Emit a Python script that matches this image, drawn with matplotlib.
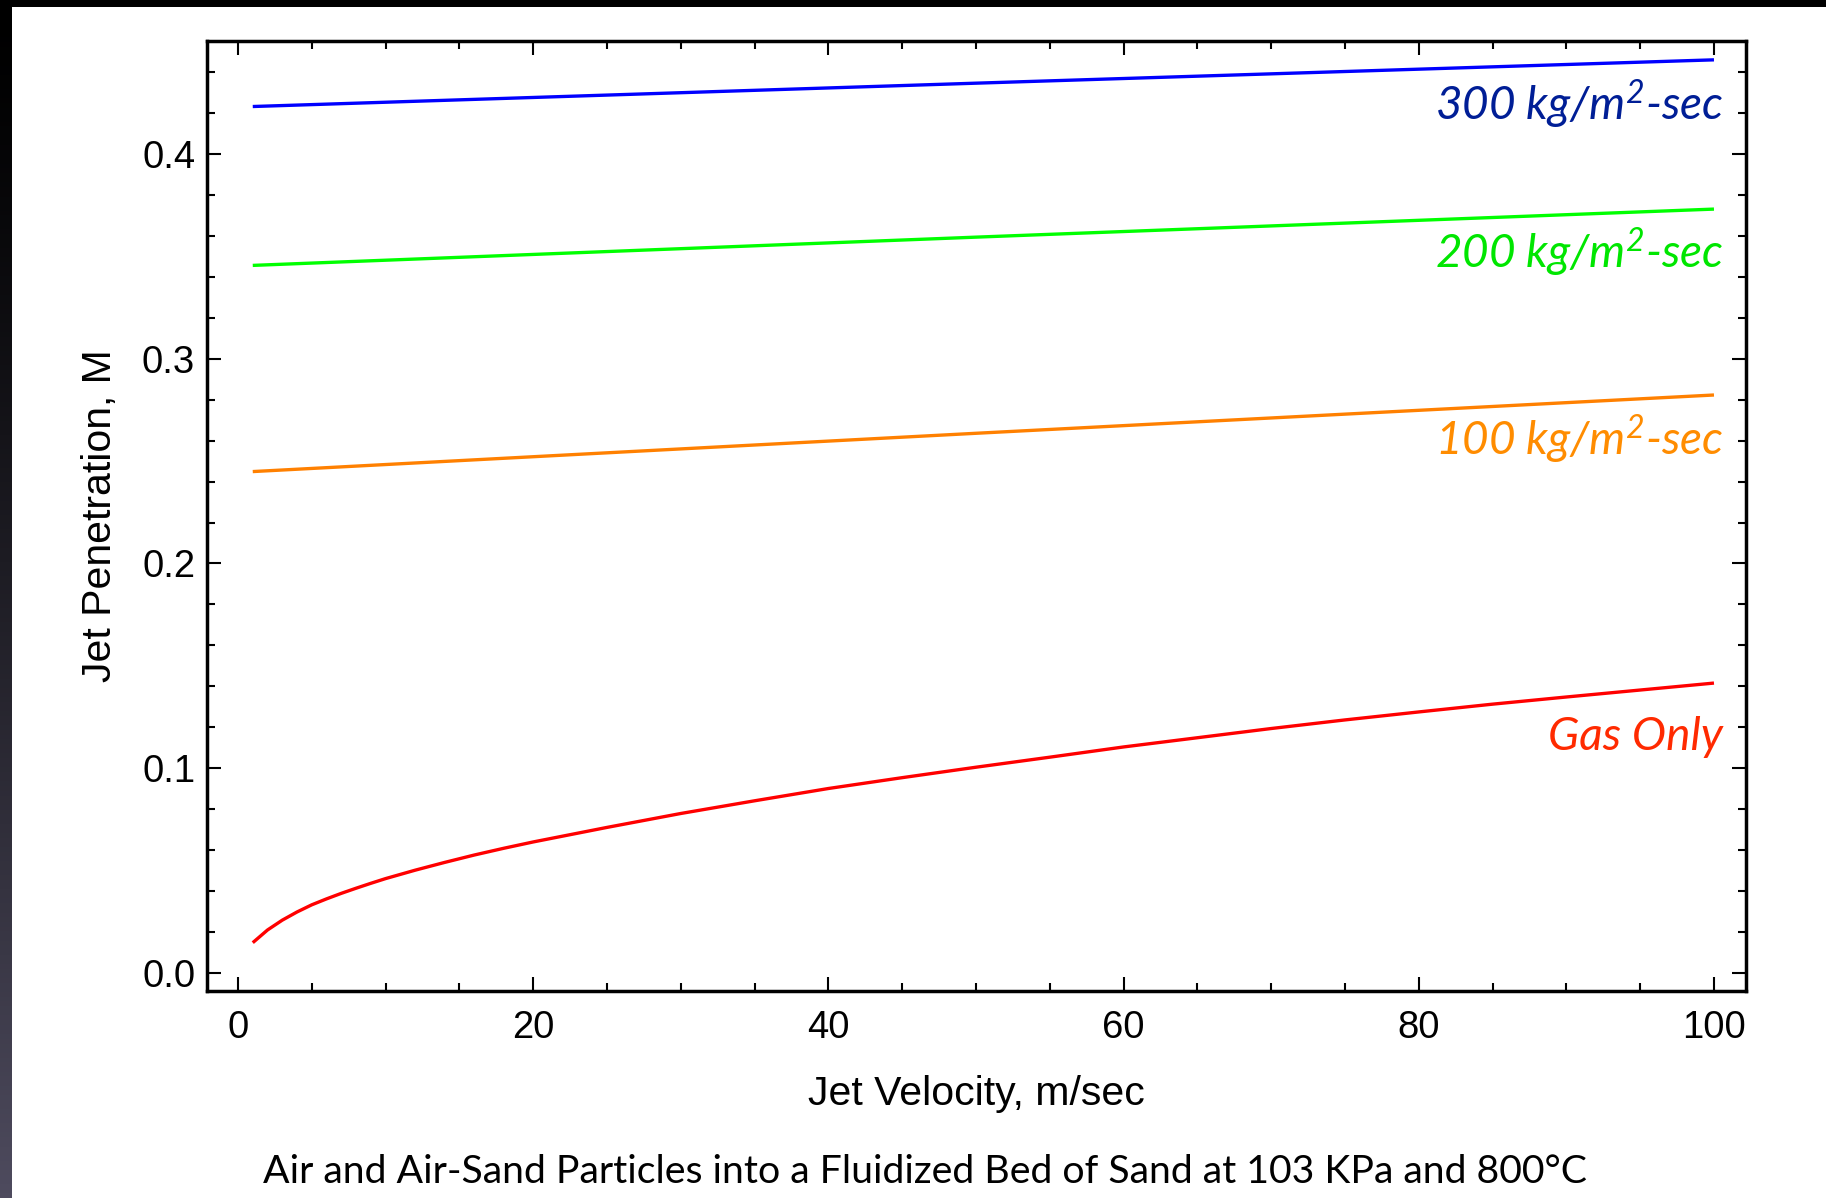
import numpy as np
import matplotlib
matplotlib.use("Agg")
import matplotlib.pyplot as plt
from matplotlib.patches import Rectangle
from matplotlib.ticker import MultipleLocator, FormatStrFormatter

# Jet penetration vs. jet velocity for several solids loadings
velocity_lin = [1, 50, 100]
pen_300 = [0.4232, 0.4346, 0.4460]
pen_200 = [0.3456, 0.3594, 0.3731]
pen_100 = [0.2449, 0.2636, 0.2823]

velocity_gas = [1, 2, 3, 4, 5, 6, 7, 8, 9, 10, 12, 14, 16, 18, 20, 25, 30, 35,
                40, 45, 50, 55, 60, 65, 70, 75, 80, 85, 90, 95, 100]
pen_gas = [0.0148, 0.0210, 0.0258, 0.0298, 0.0333, 0.0362, 0.0389, 0.0414,
           0.0438, 0.0461, 0.0502, 0.0540, 0.0576, 0.0609, 0.0640, 0.0711,
           0.0779, 0.0841, 0.0901, 0.0954, 0.1005, 0.1054, 0.1104, 0.1149,
           0.1194, 0.1236, 0.1275, 0.1313, 0.1348, 0.1382, 0.1416]

series_labels = [r"300 kg/m$^{2}$-sec", r"200 kg/m$^{2}$-sec",
                 r"100 kg/m$^{2}$-sec", "Gas Only"]
label_y = [0.4166, 0.3443, 0.2530, 0.1089]
line_colors = ["#0000FF", "#00FF00", "#FF8000", "#FF0000"]
text_colors = ["#001E96", "#00E600", "#FF8C00", "#FF2A00"]

plt.rcParams["mathtext.fontset"] = "custom"
plt.rcParams["mathtext.rm"] = "Lato:italic"
plt.rcParams["mathtext.it"] = "Lato:italic"

W, H, DPI = 1826, 1198, 100
fig = plt.figure(figsize=(W / DPI, H / DPI), dpi=DPI, facecolor="white")

# dark frame: black band along the top, gradient band down the left side
fig.patches.append(Rectangle((0, 1 - 7 / H), 1, 7 / H, transform=fig.transFigure,
                             facecolor="black", edgecolor="none", zorder=0))
band = fig.add_axes([0, 0, 11 / W, 1])
grad = np.linspace(0, 1, 256)[:, None]
top_c = np.array([0.0, 0.0, 0.0])
bot_c = np.array([78, 75, 94]) / 255.0
img = top_c + (bot_c - top_c) * (grad ** 1.3)[:, :, None] * np.ones((1, 1, 3))
band.imshow(img, aspect="auto", extent=(0, 1, 0, 1), origin="upper")
band.set_axis_off()

ax = fig.add_axes([207 / W, 1 - 991 / H, (1746 - 207) / W, (991 - 41) / H])

lw = 2.4
for ys, c in zip([pen_300, pen_200, pen_100], line_colors[:3]):
    ax.plot(velocity_lin, ys, color=c, lw=lw, solid_capstyle="butt")
ax.plot(velocity_gas, pen_gas, color=line_colors[3], lw=lw,
        solid_capstyle="butt", solid_joinstyle="round")

ax.set_xlim(-2.1, 102.17)
ax.set_ylim(-0.0088, 0.4552)

ax.xaxis.set_major_locator(MultipleLocator(20))
ax.xaxis.set_minor_locator(MultipleLocator(5))
ax.yaxis.set_major_locator(MultipleLocator(0.1))
ax.yaxis.set_minor_locator(MultipleLocator(0.02))
ax.yaxis.set_major_formatter(FormatStrFormatter("%.1f"))

ax.tick_params(which="both", direction="in", top=True, right=True, width=1.5,
               color="black")
ax.tick_params(which="major", length=10, labelsize=27.5)
ax.tick_params(which="minor", length=5.8)
ax.tick_params(axis="x", which="major", pad=13.5)
ax.tick_params(axis="y", which="major", pad=8.5)
for lab in ax.get_xticklabels() + ax.get_yticklabels():
    lab.set_fontfamily("Liberation Sans")
for s in ax.spines.values():
    s.set_linewidth(2.5)

ax.set_xlabel("Jet Velocity, m/sec", fontsize=29.5, family="Liberation Sans")
ax.set_ylabel("Jet Penetration, M", fontsize=29.5, family="Liberation Sans")
ax.xaxis.set_label_coords(0.5, -0.088)
ax.yaxis.set_label_coords(-0.0574, 0.5)

for txt, y, c in zip(series_labels, label_y, text_colors):
    ax.text(100.6, y, txt, color=c, fontsize=33, family="Lato", style="italic",
            ha="right", va="baseline")

fig.text(0.5066, 1 - 1183 / H,
         "Air and Air-Sand Particles into a Fluidized Bed of Sand at 103 KPa and 800\u00b0C",
         ha="center", va="baseline", fontsize=28.3, family="Lato", color="black")

fig.savefig("out.png", dpi=DPI, facecolor="white")
